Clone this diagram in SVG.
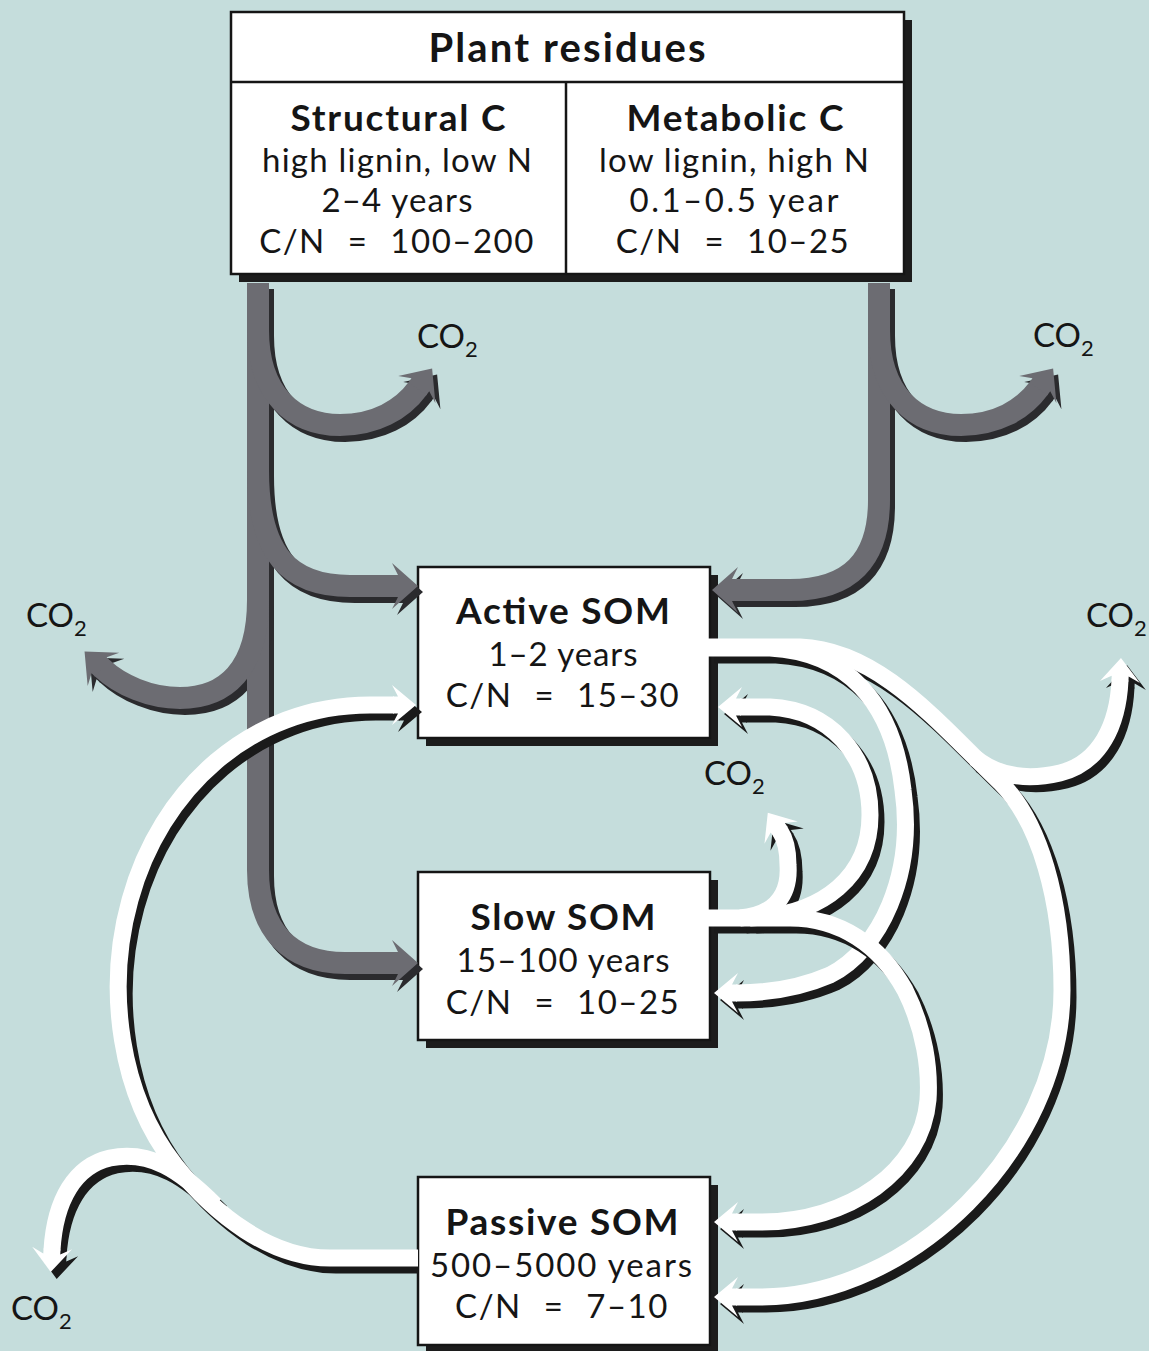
<svg xmlns="http://www.w3.org/2000/svg" xmlns:xlink="http://www.w3.org/1999/xlink" width="1149" height="1351" viewBox="0 0 1149 1351">
  <style>
    .bg { fill: #c5dddc; }
    .bx { fill: #ffffff; stroke: #151515; stroke-width: 2.5; }
    .bs { fill: #1c1c1c; }
    .dv { stroke: #151515; stroke-width: 2.5; fill: none; }
    .t { font-family: Lato, "Open Sans", "Liberation Sans", sans-serif; fill: #151515; text-anchor: middle; }
    .r { font-size: 33px; }
    .cn { word-spacing: 12px; letter-spacing: 1.5px; }
    .b { font-size: 37px; font-weight: 700; }
    .h { font-size: 40px; font-weight: 700; }
    .co { font-family: Lato, "Open Sans", "Liberation Sans", sans-serif; font-size: 33px; fill: #151515; }
    .sub { font-size: 22px; }
    .gs { fill: none; stroke: #2b2b2e; stroke-width: 22; marker-end: url(#hgs); }
    .gb { fill: none; stroke: #6c6c72; stroke-width: 22; marker-end: url(#hg); }
    .ws { fill: none; stroke: #1a1a1a; stroke-width: 17; marker-end: url(#hws); }
    .wb { fill: none; stroke: #ffffff; stroke-width: 17; marker-end: url(#hw); }
  </style>
  <defs>
    <!-- barbed arrowheads: grey flow (wide) and white flow (narrower), each with a shadow twin -->
    <marker id="hg" markerUnits="userSpaceOnUse" orient="auto" viewBox="-30 -30 60 60" markerWidth="60" markerHeight="60" refX="0" refY="0" overflow="visible">
      <path d="M24,0 L-2,-23 L4,-11 L-1,-11 L-1,11 L4,11 L-2,23 Z" fill="#6c6c72"/>
    </marker>
    <marker id="hgs" markerUnits="userSpaceOnUse" orient="auto" viewBox="-30 -30 60 60" markerWidth="60" markerHeight="60" refX="0" refY="0" overflow="visible">
      <path d="M24,0 L-2,-23 L4,-11 L-1,-11 L-1,11 L4,11 L-2,23 Z" fill="#2b2b2e"/>
    </marker>
    <marker id="hw" markerUnits="userSpaceOnUse" orient="auto" viewBox="-30 -30 60 60" markerWidth="60" markerHeight="60" refX="0" refY="0" overflow="visible">
      <path d="M22,0 L-2,-20 L4,-8.5 L-1,-8.5 L-1,8.5 L4,8.5 L-2,20 Z" fill="#ffffff"/>
    </marker>
    <marker id="hws" markerUnits="userSpaceOnUse" orient="auto" viewBox="-30 -30 60 60" markerWidth="60" markerHeight="60" refX="0" refY="0" overflow="visible">
      <path d="M22,0 L-2,-20 L4,-8.5 L-1,-8.5 L-1,8.5 L4,8.5 L-2,20 Z" fill="#1a1a1a"/>
    </marker>

    <!-- grey flows out of plant residues -->
    <path id="g1" d="M258,283 V870 C258,930 290,963 345,963 H394"/>
    <path id="g2" d="M258,330 C258,395 295,425 340,425 C375,425 402,410 418,388"/>
    <path id="g3" d="M258,470 C258,555 290,586 350,586 H394"/>
    <path id="g4" d="M258,600 C258,670 225,698 180,698 C150,698 120,685 102,668"/>
    <path id="g5" d="M879,283 V500 C879,560 850,590 790,590 H736"/>
    <path id="g6" d="M879,330 C879,395 916,425 961,425 C996,425 1023,410 1039,388"/>

    <!-- white flows between SOM pools -->
    <path id="w1" d="M418,1258 H330 C270,1258 215,1215 175,1165 C120,1095 105,990 130,900 C160,790 250,705 370,705 H394"/>
    <path id="w1s" d="M412,1258 H330 C270,1258 215,1215 175,1165 C120,1095 105,990 130,900 C160,790 250,705 370,705 H394"/>
    <path id="w1c" d="M215,1205 C180,1170 150,1150 110,1158 C75,1166 55,1200 52,1250"/>
    <path id="w3" d="M708,647 H800 C880,650 940,725 1000,782 C1040,822 1062,900 1062,990 C1062,1150 910,1297 760,1297 H736"/>
    <path id="w3c" d="M975,758 C1000,778 1030,780 1060,773 C1100,763 1118,725 1120,680"/>
    <path id="w2" d="M708,648 H770 C845,652 893,700 903,790 C915,875 880,950 830,975 C800,988 770,993 736,993"/>
    <path id="w4" d="M708,918 H790 C840,918 880,945 905,990 C925,1030 930,1070 928,1100 C922,1170 850,1222 760,1222 H736"/>
    <path id="w5" d="M750,918 C825,915 870,875 870,815 C870,755 830,710 770,707 L740,707"/>
    <path id="w6" d="M740,918 C775,915 790,895 788,865 C788,850 786,840 780,831"/>
  </defs>

  <rect class="bg" x="0" y="0" width="1149" height="1351"/>

  <!-- pools -->
  <g id="plant-residues">
    <rect class="bs" x="239" y="20" width="673" height="262"/>
    <rect class="bx" x="231" y="12" width="673" height="262"/>
    <line class="dv" x1="231" y1="82" x2="904" y2="82"/>
    <line class="dv" x1="566" y1="82" x2="566" y2="274"/>
    <text class="t h" x="567" y="62" textLength="277">Plant residues</text>
    <g id="structural-c">
      <text class="t b" x="398" y="131" textLength="215">Structural C</text>
      <text class="t r" x="397" y="172" textLength="270">high lignin, low N</text>
      <text class="t r" x="397" y="212" textLength="151">2–4 years</text>
      <text class="t r cn" x="397" y="253">C/N = 100–200</text>
    </g>
    <g id="metabolic-c">
      <text class="t b" x="735" y="131" textLength="217">Metabolic C</text>
      <text class="t r" x="734" y="172" textLength="270">low lignin, high N</text>
      <text class="t r" x="734" y="212" textLength="209">0.1–0.5 year</text>
      <text class="t r cn" x="733" y="253">C/N = 10–25</text>
    </g>
  </g>

  <g id="active-som">
    <rect class="bs" x="426" y="575" width="292" height="171"/>
    <rect class="bx" x="418" y="567" width="292" height="171"/>
    <text class="t b" x="563" y="624" textLength="214">Active SOM</text>
    <text class="t r" x="563" y="666" textLength="149">1–2 years</text>
    <text class="t r cn" x="563" y="707">C/N = 15–30</text>
  </g>

  <g id="slow-som">
    <rect class="bs" x="426" y="880" width="292" height="168"/>
    <rect class="bx" x="418" y="872" width="292" height="168"/>
    <text class="t b" x="563" y="930" textLength="185">Slow SOM</text>
    <text class="t r" x="563" y="972" textLength="213">15–100 years</text>
    <text class="t r cn" x="563" y="1014">C/N = 10–25</text>
  </g>

  <g id="passive-som">
    <rect class="bs" x="426" y="1185" width="292" height="168"/>
    <rect class="bx" x="418" y="1177" width="292" height="168"/>
    <text class="t b" x="562" y="1235" textLength="233">Passive SOM</text>
    <text class="t r" x="561" y="1277" textLength="262">500–5000 years</text>
    <text class="t r cn" x="562" y="1318">C/N = 7–10</text>
  </g>

  <!-- flows -->
  <g id="connectors">
    <g id="grey-flows">
      <use xlink:href="#g1" class="gs" transform="translate(5,6)"/>
      <use xlink:href="#g2" class="gs" transform="translate(5,6)"/>
      <use xlink:href="#g3" class="gs" transform="translate(5,6)"/>
      <use xlink:href="#g4" class="gs" transform="translate(5,6)"/>
      <use xlink:href="#g5" class="gs" transform="translate(5,6)"/>
      <use xlink:href="#g6" class="gs" transform="translate(5,6)"/>
      <use xlink:href="#g1" class="gb"/>
      <use xlink:href="#g2" class="gb"/>
      <use xlink:href="#g3" class="gb"/>
      <use xlink:href="#g4" class="gb"/>
      <use xlink:href="#g5" class="gb"/>
      <use xlink:href="#g6" class="gb"/>
    </g>
    <g id="passive-out">
      <use xlink:href="#w1s" class="ws" transform="translate(6,7)"/>
      <use xlink:href="#w1c" class="ws" transform="translate(6,7)"/>
      <use xlink:href="#w1" class="wb"/>
      <use xlink:href="#w1c" class="wb"/>
    </g>
    <g id="active-out">
      <use xlink:href="#w3" class="ws" transform="translate(6,7)"/>
      <use xlink:href="#w3c" class="ws" transform="translate(6,7)"/>
      <use xlink:href="#w2" class="ws" transform="translate(6,7)"/>
      <use xlink:href="#w3" class="wb"/>
      <use xlink:href="#w3c" class="wb"/>
      <use xlink:href="#w2" class="wb"/>
    </g>
    <g id="slow-out">
      <use xlink:href="#w4" class="ws" transform="translate(6,7)"/>
      <use xlink:href="#w5" class="ws" transform="translate(6,7)"/>
      <use xlink:href="#w6" class="ws" transform="translate(6,7)"/>
      <use xlink:href="#w4" class="wb"/>
      <use xlink:href="#w5" class="wb"/>
      <use xlink:href="#w6" class="wb"/>
    </g>
  </g>

  <!-- respiration labels -->
  <g id="co2-labels">
    <text class="co" x="417" y="348">CO<tspan class="sub" dy="9">2</tspan></text>
    <text class="co" x="1033" y="347">CO<tspan class="sub" dy="9">2</tspan></text>
    <text class="co" x="26" y="627">CO<tspan class="sub" dy="9">2</tspan></text>
    <text class="co" x="1086" y="627">CO<tspan class="sub" dy="9">2</tspan></text>
    <text class="co" x="704" y="785">CO<tspan class="sub" dy="9">2</tspan></text>
    <text class="co" x="11" y="1320">CO<tspan class="sub" dy="9">2</tspan></text>
  </g>
</svg>
